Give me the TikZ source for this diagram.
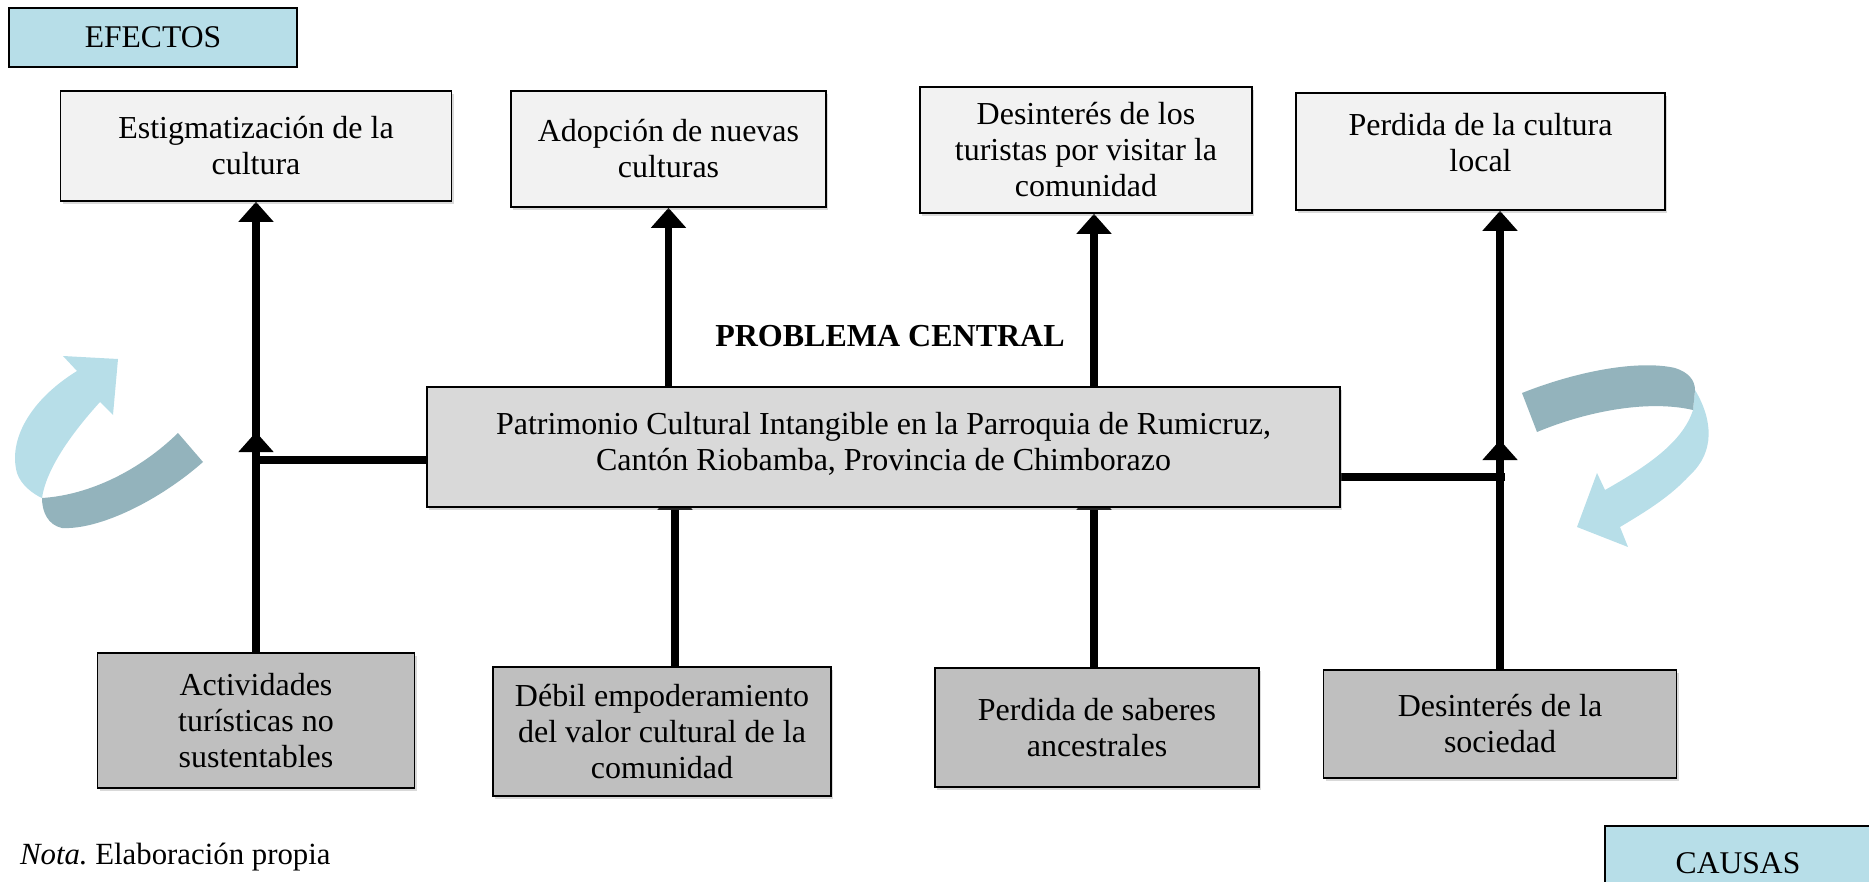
\documentclass[tikz,border=0pt]{standalone}
\usepackage{fontspec}
\setmainfont{Liberation Serif}
\usetikzlibrary{arrows.meta,shadows,backgrounds}
\definecolor{lblue}{HTML}{B7DEE8}
\definecolor{dblue}{HTML}{93B3BC}
\definecolor{effill}{HTML}{F2F2F2}
\definecolor{cenfill}{HTML}{D9D9D9}
\definecolor{caufill}{HTML}{BFBFBF}
\begin{document}
\begin{tikzpicture}[x=0.5pt,y=-0.5pt,
  font=\fontsize{16}{18}\selectfont,
  box/.style={draw=black, line width=0.8pt, align=center, inner sep=0pt,
    drop shadow={shadow xshift=1.2pt, shadow yshift=-1.5pt, opacity=0.3}},
  efbox/.style={box, fill=effill},
  cenbox/.style={box, fill=cenfill},
  caubox/.style={box, fill=caufill},
  labbox/.style={draw=black, line width=0.8pt, fill=lblue, inner sep=0pt, font=\fontsize{15.8}{18}\selectfont},
  conn/.style={line width=3.8pt, black},
  arr/.style={-{Triangle[width=17pt,length=10pt]}}]
\clip (0,0) rectangle (1869,882);
% labels
\node[labbox, minimum width=144pt, minimum height=29.5pt] (efectos) at (153,37.5) {EFECTOS};
\node[labbox, minimum width=133pt, minimum height=37pt] (causas) at (1738,863) {CAUSAS};
\node[anchor=west, font=\fontsize{15.4}{17}\selectfont] (nota) at (13,857) {\textit{Nota.}\ Elaboración propia};
% effects
\node[efbox, minimum width=195.5pt, minimum height=55pt] (e1) at (256,146) {Estigmatización de la\\cultura};
\node[efbox, minimum width=157.5pt, minimum height=58pt] (e2) at (668.5,149) {Adopción de nuevas\\culturas};
\node[efbox, minimum width=166pt, minimum height=63pt] (e3) at (1086,150) {Desinterés de los\\turistas por visitar la\\comunidad};
\node[efbox, minimum width=184.5pt, minimum height=58.5pt] (e4) at (1480.5,151.5) {Perdida de la cultura\\local\\[-9pt]};
% central
\node[font=\fontsize{16}{18}\selectfont\bfseries] (pc) at (890,336) {PROBLEMA CENTRAL};
\node[cenbox, minimum width=456.5pt, minimum height=60pt] (central) at (883.5,447) {Patrimonio Cultural Intangible en la Parroquia de Rumicruz,\\Cantón Riobamba, Provincia de Chimborazo\\[-12pt]};
% causes
\node[caubox, minimum width=158.5pt, minimum height=67.5pt] (c1) at (256,720.5) {Actividades\\turísticas no\\sustentables};
\node[caubox, minimum width=169pt, minimum height=64.5pt] (c2) at (662,731.5) {Débil empoderamiento\\del valor cultural de la\\comunidad};
\node[caubox, minimum width=162pt, minimum height=59.5pt] (c3) at (1097,727.5) {Perdida de saberes\\ancestrales};
\node[caubox, minimum width=176.5pt, minimum height=54pt] (c4) at (1500,724) {Desinterés de la\\sociedad};
% helper coordinates
\coordinate (lA) at (256,432);
\coordinate (lB) at (256,440);
\coordinate (lJ) at (256,460);
\coordinate (rA) at (1500,440);
\coordinate (rB) at (1500,448);
\coordinate (rJ) at (1500,477);
\coordinate (rE) at (1505,477);
\coordinate (x2) at (675,0);
\coordinate (x3) at (1094,0);
\begin{scope}[on background layer]
\draw[conn,arr] (c1.north) -- (lA);
\draw[conn,arr] (lB) -- (e1.south);
\draw[conn] (lJ) -- (lJ -| central.west);
\draw[conn,arr] (c4.north) -- (rA);
\draw[conn,arr] (rB) -- (rB |- e4.south);
\draw[conn] (rJ -| central.east) -- (rE);
\draw[conn,arr] (e2.south |- central.north) -- (e2.south);
\draw[conn,arr] (central.north -| x3) -- (e3.south -| x3);
\draw[conn,arr,shorten >=-9pt] (c2.north -| x2) -- (central.south -| x2);
\draw[conn,arr,shorten >=-9pt] (c3.north -| x3) -- (central.south -| x3);
\end{scope}
% left curved arrow
\fill[lblue] (17,473) .. controls (8,440) and (30,400) .. (77,371) -- (63,356) -- (118,359) -- (113,415) -- (100,402)
  .. controls (70,435) and (46,470) .. (42,498) .. controls (33,494) and (21,485) .. (17,473) -- cycle;
\fill[dblue] (42,498) .. controls (90,495) and (140,470) .. (178,433) -- (203,462)
  .. controls (160,500) and (100,530) .. (62,528) .. controls (48,525) and (42,512) .. (42,498) -- cycle;
% right curved arrow
\fill[lblue] (1695,390) .. controls (1713,420) and (1715,452) .. (1690,475) .. controls (1670,497) and (1645,512) .. (1620,527)
  -- (1628,547) -- (1577,527) -- (1597,473) -- (1605,490) .. controls (1640,470) and (1682,445) .. (1693,410) -- cycle;
\fill[dblue] (1522,393) .. controls (1580,370) and (1640,360) .. (1675,368) .. controls (1688,372) and (1695,380) .. (1695,390)
  -- (1693,410) .. controls (1650,400) and (1590,410) .. (1537,432) -- cycle;
\end{tikzpicture}
\end{document}
